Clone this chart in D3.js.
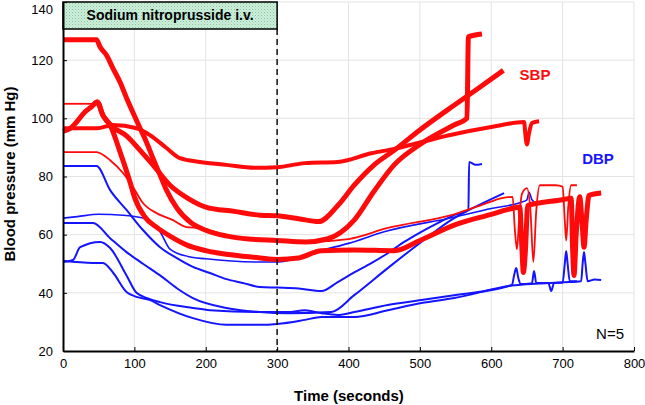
<!DOCTYPE html>
<html><head><meta charset="utf-8">
<script src="https://cdn.jsdelivr.net/npm/d3@7"></script>
<style>body{margin:0;background:#fff}svg{display:block;font-family:"Liberation Sans",Arial,sans-serif}</style>
</head><body><svg id="c" width="645" height="405"></svg>
<script>
// ---- data (time s, pressure mm Hg) ----
const xTicks = [0,100,200,300,400,500,600,700,800];
const yTicks = [20,40,60,80,100,120,140];
const infusionEnd = 300;
const infusionLabel = "Sodium nitroprusside i.v.";

// SBP (red)
const sbpA = [[0,127],[47,127],[52,124.5],[61,121.7],[70,117.2],[80,112.4],[89,107],[98,102],[108,96.6],[117,91.8],[126,86.3],[136,80.5],[145,75.3],[160,69],[180,64],[200,61.5],[230,59.5],[260,58.5],[300,58],[340,57.5],[370,58.5],[408,65],[436,75],[464,84],[500,91],[548,97.7],[566,100],[568,128],[587,129]];
const sbpBflat = [[0,105],[44,105]];
const sbpB = [[44,105],[48,105.6],[56,101],[66,97.7],[80,88.4],[94,78],[100,73],[115,66],[131,62.6],[150,59.5],[173,56.5],[200,54.5],[238,53],[276,52],[300,51.5],[330,52],[362,54.5],[408,54.7],[464,54.5],[500,58],[548,63.3],[600,67],[629,69],[640,69.5],[643,55],[645,47],[648,55],[651,70],[700,72],[712,72.5],[714,55],[716,46],[719,60],[724,73],[727,65],[730,55.7],[733,65],[737,73.5],[754,74.3]];
const sbpC = [[0,95.5],[10,96.5],[20,99],[30,102],[40,104],[48,105.6],[56,101],[70,97],[89,94],[108,89],[126,84],[150,77],[175,72.5],[200,69.5],[240,68],[276,66.7],[300,66.5],[330,65.5],[358,64.5],[385,70],[408,77],[436,84],[464,89],[500,96],[548,104.5],[580,110],[617,116.5]];
const sbpD = [[0,96.6],[48,96.6],[70,97.7],[103,96.6],[122,94.2],[145,89.8],[164,86.3],[192,85],[229,84],[268,83],[300,83.2],[339,84.6],[385,85],[432,88],[464,89.5],[541,94.2],[600,97],[646,98.7],[648,94],[650,91],[653,95],[657,98.4],[667,99]];
const sbpE = [[0,88.4],[47,88.4],[66,85.6],[84,81.2],[98,76.4],[112,70.9],[131,67.4],[154,65],[173,62.6],[192,62.3],[238,59.2],[300,58],[340,57.5],[400,58.5],[455,62.3],[548,67],[590,70.5],[615,72.6],[630,73],[633,62],[636,55],[639,65],[643,74],[650,76],[655,68],[659,50.6],[663,68],[668,77],[690,77],[700,76.5],[703,65],[705,58],[708,70],[712,77],[720,77]];

// DBP (blue)
const dbpA = [[0,83.6],[47,83.6],[66,75.3],[89,68.5],[112,61.6],[136,55.7],[159,52],[182,48.9],[206,46.8],[229,44.7],[252,43.4],[276,42],[300,41.8],[330,41.5],[362,40.6],[385,43.7],[408,47],[432,50.2],[455,53.6],[478,57.5],[502,61],[525,64],[548,66.7],[568,68.5],[569,85],[578,84],[587,84.3]];
const dbpB = [[0,65.7],[20,66.2],[50,67],[84,66.7],[112,65.7],[136,61],[150,55],[175,52.5],[200,51.7],[276,50.6],[300,50.6],[352,54],[400,57],[450,61],[548,66],[600,69],[640,71],[650,72],[653,74.6],[657,72],[665,70.5]];
const dbpC = [[0,64],[42,64],[66,58.8],[89,54],[112,50],[136,46],[160,41.5],[182,38.2],[229,34.8],[276,33.4],[315,33],[376,33.4],[408,39.2],[455,48.5],[502,57.5],[548,65.7],[569,68.5],[618,74.3]];
const dbpD = [[0,50.6],[14,51.3],[24,55.7],[52,57.5],[66,55.4],[89,46],[103,40],[120,38],[136,36.8],[182,34.8],[206,34],[276,33.4],[315,33.4],[339,34],[362,33],[385,32.4],[408,33.4],[455,35.8],[502,37.5],[548,39.2],[629,42.7],[632,46],[635,48.5],[638,45],[641,43],[657,43.3],[660,47.5],[663,43.4],[680,43.4],[684,40.6],[688,43.4],[700,43.5],[703,50],[705,54.4],[707,50],[710,44],[720,44]];
const dbpE = [[0,51],[42,50.3],[56,50.3],[70,47],[89,40.3],[103,38.6],[122,37.5],[136,35.8],[182,31.3],[229,29],[276,29],[300,29.3],[339,30.7],[362,31.7],[408,31.7],[455,34],[502,36.5],[548,38.2],[629,42.5],[700,43.6],[726,44],[728,50],[730,54],[732,50],[735,44],[745,44.6],[754,44.4]];

const x = d3.scaleLinear().domain([0,800]).range([63,634]);
const y = d3.scaleLinear().domain([20,140]).range([351,2]);
const svg = d3.select("#c");

// pattern for infusion box
const defs = svg.append("defs");
const pat = defs.append("pattern").attr("id","dots").attr("width",3).attr("height",3).attr("patternUnits","userSpaceOnUse");
pat.append("rect").attr("width",3).attr("height",3).attr("fill","#cdeeda");
pat.append("rect").attr("width",1).attr("height",1).attr("fill","#86c4a0");
pat.append("rect").attr("x",1.5).attr("y",1.5).attr("width",1).attr("height",1).attr("fill","#a3d6b8");

// grid
svg.append("g").selectAll("line").data(xTicks.slice(1)).join("line")
  .attr("x1",d=>x(d)).attr("x2",d=>x(d)).attr("y1",y(140)).attr("y2",y(20))
  .attr("stroke","#e3e3e3").attr("stroke-width",1);
svg.append("g").selectAll("line").data(yTicks.slice(1)).join("line")
  .attr("x1",x(0)).attr("x2",x(800)).attr("y1",d=>y(d)).attr("y2",d=>y(d))
  .attr("stroke","#e3e3e3").attr("stroke-width",1);

const line = d3.line().x(d=>x(d[0])).y(d=>y(d[1])).curve(d3.curveMonotoneX);
const blue = "#1414ff", red = "#ff0a0a";
const blues = [[dbpA,2],[dbpB,1.6],[dbpC,2],[dbpD,2],[dbpE,2]];
blues.forEach(([d,w])=>svg.append("path").attr("d",line(d)).attr("fill","none").attr("stroke",blue).attr("stroke-width",w).attr("stroke-linejoin","round"));
const reds = [[sbpBflat,1.8],[sbpA,5],[sbpB,5],[sbpC,5],[sbpD,4],[sbpE,1.8]];
reds.forEach(([d,w])=>svg.append("path").attr("d",line(d)).attr("fill","none").attr("stroke",red).attr("stroke-width",w).attr("stroke-linejoin","round"));

// dashed end-of-infusion line
svg.append("line").attr("x1",x(infusionEnd)).attr("x2",x(infusionEnd)).attr("y1",29).attr("y2",y(20))
  .attr("stroke","#111").attr("stroke-width",1.5).attr("stroke-dasharray","6,4");

// infusion box
svg.append("rect").attr("x",x(0)).attr("y",y(140)).attr("width",x(infusionEnd)-x(0)).attr("height",29-y(140))
  .attr("fill","url(#dots)").attr("stroke","#000").attr("stroke-width",1.5);
svg.append("text").attr("x",(x(0)+x(infusionEnd))/2).attr("y",15.5).attr("dy","0.35em").attr("text-anchor","middle")
  .attr("font-size",14).attr("font-weight","bold").text(infusionLabel);

// axes
const gx = svg.append("g").attr("transform",`translate(0,${y(20)})`)
  .call(d3.axisBottom(x).tickValues(xTicks).tickSizeInner(-4).tickSizeOuter(0).tickPadding(8));
const gy = svg.append("g").attr("transform",`translate(${x(0)},0)`)
  .call(d3.axisLeft(y).tickValues(yTicks).tickSizeInner(-4).tickSizeOuter(0).tickPadding(10));
[gx,gy].forEach(g=>{
  g.select(".domain").attr("stroke","#000").attr("stroke-width",2);
  g.selectAll(".tick line").attr("stroke","#000");
  g.selectAll("text").attr("font-size",13).attr("fill","#000").attr("font-family","Liberation Sans, Arial, sans-serif");
});
gy.selectAll(".tick").filter(d=>d===140).select("text").attr("dy","0.85em");

svg.append("text").attr("x",349).attr("y",396).attr("dy","0.35em").attr("text-anchor","middle")
  .attr("font-size",15).attr("font-weight","bold").text("Time (seconds)");
svg.append("text").attr("transform","translate(15,174) rotate(-90)").attr("text-anchor","middle")
  .attr("font-size",15).attr("font-weight","bold").text("Blood pressure (mm Hg)");

svg.append("text").attr("x",535).attr("y",75).attr("dy","0.35em").attr("text-anchor","middle")
  .attr("font-size",15).attr("font-weight","bold").attr("fill",red).text("SBP");
svg.append("text").attr("x",598).attr("y",159).attr("dy","0.35em").attr("text-anchor","middle")
  .attr("font-size",15).attr("font-weight","bold").attr("fill",blue).text("DBP");
svg.append("text").attr("x",624).attr("y",334).attr("dy","0.35em").attr("text-anchor","end")
  .attr("font-size",15).attr("fill","#000").text("N=5");
</script></body></html>
